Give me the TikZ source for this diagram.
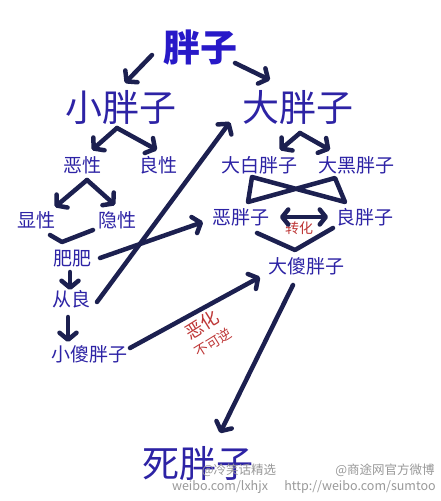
\documentclass[tikz,border=0pt]{standalone}
\usepackage{fontspec}
\newfontfamily\cjk{Noto Sans CJK SC}
\usepackage{tikz}
\usetikzlibrary{arrows.meta,calc}
\definecolor{txtblue}{RGB}{45,35,165}
\definecolor{topblue}{RGB}{40,25,200}
\definecolor{arrnavy}{RGB}{28,32,80}
\definecolor{tagred}{RGB}{190,55,55}

\begin{document}
\begin{tikzpicture}[x=1pt,y=-1pt,
  big/.style={font=\cjk\fontsize{37}{37}\selectfont,text=txtblue,inner sep=0pt},
  sm/.style={font=\cjk\fontsize{19}{19}\selectfont,text=txtblue,inner sep=0pt},
  ln/.style={line width=4.5pt,draw=arrnavy,line cap=round,line join=round},
  arr/.style={ln,-{Straight Barb[length=7pt,width=17pt,round]}},
  darr/.style={ln,{Straight Barb[length=6pt,width=15pt,round]}-{Straight Barb[length=6pt,width=15pt,round]}},
  wm/.style={font=\cjk\fontsize{12.5}{12.5}\selectfont,text=black!40,inner sep=0pt}]
  \fill[white] (0,0) rectangle (440,501);
  \useasboundingbox (0,0) rectangle (440,501);
  \node[big,font=\cjk\bfseries\fontsize{37}{37}\selectfont,text=topblue] (pz) at (200,47) {胖子};
  \node[big] (xpz) at (121,107) {小胖子};
  \node[big] (dpz) at (298,107) {大胖子};
  \node[sm] (ex) at (82,165) {恶性};
  \node[sm] (lx) at (158,165) {良性};
  \node[sm] (dbpz) at (259,165) {大白胖子};
  \node[sm] (dhpz) at (356,165) {大黑胖子};
  \node[sm] (xx) at (36,220) {显性};
  \node[sm] (yx) at (117,220) {隐性};
  \node[sm] (epz) at (241,217) {恶胖子};
  \node[sm] (lpz) at (365,217) {良胖子};
  \node[sm,font=\cjk\fontsize{14}{14}\selectfont,text=tagred] (zh) at (299,228) {转化};
  \node[sm] (ff) at (72,259) {肥肥};
  \node[sm] (dspz) at (306,266) {大傻胖子};
  \node[sm] (cl) at (71,299) {从良};
  \node[sm] (xspz) at (89,354) {小傻胖子};
  \node[rotate=32,text=tagred,align=center,inner sep=0pt,font=\cjk\fontsize{18}{19}\selectfont] (eh) at (207,333) {恶化\\{\fontsize{13.5}{14}\selectfont 不可逆}};
  \node[big] (spz) at (198,463) {死胖子};
  \node[wm] (wm1) at (239,470) {@冷笑话精选};
  \node[wm] (wm2) at (220,487) {weibo.com/lxhjx};
  \node[wm] (wm3) at (385,470) {@商途网官方微博};
  \node[wm] (wm4) at (360,487) {http://weibo.com/sumtoo};

  \draw[arr] ($(pz)+(-48,8)$) -- ($(xpz)+(4,-24)$);
  \draw[arr] ($(pz)+(35,16)$) -- ($(dpz)+(-28,-27)$);
  \coordinate (xa) at ($(xpz)+(-4,21)$);
  \draw[arr] (xa) -- ($(ex)+(10,-15)$);
  \draw[arr] (xa) -- ($(lx)+(-1,-15)$);
  \coordinate (da) at ($(dpz)+(2,26)$);
  \draw[arr] (da) -- ($(dbpz)+(21,-15)$);
  \draw[arr] (da) -- ($(dhpz)+(-26,-15)$);
  \coordinate (ea) at ($(ex)+(5,15)$);
  \draw[arr] (ea) -- ($(xx)+(19,-13)$);
  \draw[arr] (ea) -- ($(yx)+(-2,-15)$);
  \draw[ln] ($(xx)+(14,15)$) -- ($(ff)+(-10,-17)$) -- ($(yx)+(-24,10)$);
  \draw[ln] ($(dbpz)+(-7,12)$) -- ($(epz)+(7,-15)$) -- ($(dhpz)+(-21,13)$) -- ($(lpz)+(-20,-15)$) -- cycle;
  \draw[darr] ($(epz)+(39,0)$) -- ($(lpz)+(-37,0)$);
  \draw[ln] ($(epz)+(16,16)$) -- ($(dspz)+(-11,-16)$) -- ($(lpz)+(-32,11)$);
  \draw[arr] ($(ff)+(28,-1)$) -- ($(epz)+(-38,5)$);
  \draw[arr] ($(cl)+(26,3)$) -- ($(dpz)+(-68,15)$);
  \draw[arr] ($(ff)+(-2,13)$) -- ($(cl)+(-1,-9)$);
  \draw[arr] ($(cl)+(-3,18)$) -- ($(xspz)+(-21,-12)$);
  \draw[arr] ($(xspz)+(41,-6)$) -- ($(dspz)+(-46,11)$);
  \draw[arr] ($(dspz)+(-13,19)$) -- ($(spz)+(22,-30)$);
\end{tikzpicture}
\end{document}
